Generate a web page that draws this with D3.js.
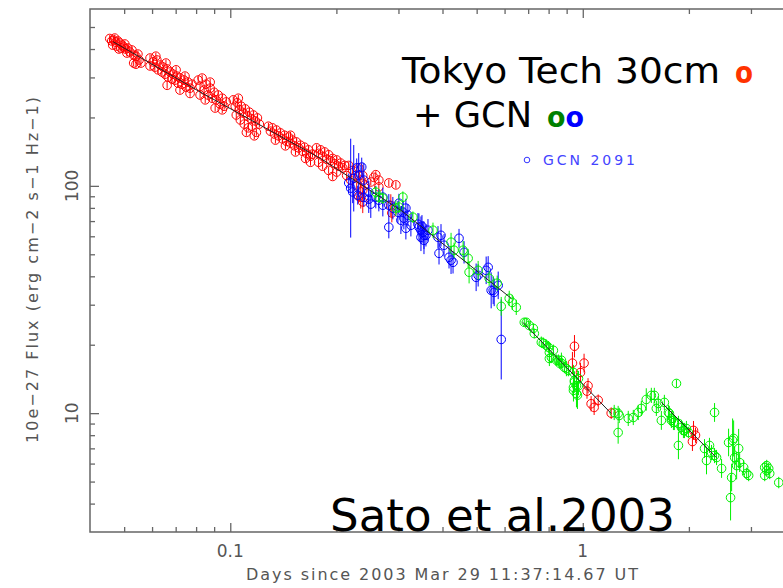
<!DOCTYPE html>
<html>
<head>
<meta charset="utf-8">
<script src="https://cdn.jsdelivr.net/npm/d3@7"></script>
<style>
body { margin: 0; background: #fff; }
svg { display: block; }
.lab { font-family: "DejaVu Sans", sans-serif; fill: #555; }
.big { font-family: "DejaVu Sans", sans-serif; fill: #000; }
</style>
</head>
<body>
<div id="chart"></div>
<script>
// [days, flux] or [days, flux, relative error]
var redData = [
  [0.0455,445],[0.0470,447],[0.0461,434],[0.0467,438],[0.0473,429],[0.0480,434],[0.0464,416],[0.0476,412],
  [0.0486,425],[0.0493,416],[0.0489,404],[0.0499,408],[0.0505,400],[0.0512,404],[0.0509,384],[0.0519,388],
  [0.0526,396],[0.0532,376],[0.0540,372],[0.0547,380],[0.0551,358],[0.0532,347],[0.0540,343],[0.0558,347],
  [0.0502,421],[0.0483,400],
  [0.0592,365],[0.0592,337],[0.0604,351],[0.0611,333],[0.0619,358],[0.0624,324],[0.0632,340],[0.0640,317],
  [0.0645,333],[0.0653,310],[0.0662,327],[0.0666,301],[0.0675,317],[0.0684,295],[0.0688,310],[0.0697,292],
  [0.0706,304],[0.0711,283],[0.0720,298],[0.0729,280],[0.0739,292],[0.0749,272],[0.0759,286],[0.0769,269],
  [0.0779,280],[0.0662,277],[0.0720,264],[0.0769,255],[0.0615,372],[0.0657,347],[0.0702,324],[0.0744,304],
  [0.0811,292],[0.0821,274],[0.0832,298],[0.0843,264],[0.0854,280],[0.0865,251],[0.0877,269],[0.0889,243],
  [0.0900,258],[0.0912,239],[0.0924,251],[0.0936,229],[0.0949,243],[0.0961,224],[0.0974,234],[0.0849,239],
  [0.0906,220],[0.0949,216],[0.0821,251],[0.0877,286],
  [0.1020,239],[0.1033,224],[0.1047,232],[0.1061,216],[0.1075,224],[0.1089,209],[0.1103,218],[0.1118,203],
  [0.1133,211],[0.1148,197],[0.1163,205],[0.1178,193],[0.1194,199],[0.1209,187],[0.1040,205],[0.1068,195],
  [0.1096,187],[0.1125,180],[0.1155,183],[0.1186,172],[0.1170,166],[0.1111,172],[0.1054,243],
  [0.1283,183],[0.1300,174],[0.1317,180],[0.1335,169],[0.1352,176],[0.1370,166],[0.1388,171],[0.1406,161],
  [0.1425,167],[0.1444,157],[0.1463,164],[0.1482,154],[0.1502,159],[0.1521,150],[0.1541,156],[0.1562,147],
  [0.1582,151],[0.1603,142],[0.1624,148],[0.1646,139],[0.1667,144],[0.1689,135],[0.1711,138],[0.1434,150],
  [0.1531,141],[0.1635,132],[0.1689,127],[0.1343,159],[0.1482,167],
  [0.1757,147],[0.1780,139],[0.1804,144],[0.1828,135],[0.1852,141],[0.1877,131],[0.1901,137],[0.1926,129],
  [0.1952,132],[0.1977,125],[0.2004,130],[0.2030,122],[0.2057,126],[0.2084,120],[0.2111,123],[0.1828,122],
  [0.1901,117],[0.1952,110],[0.1780,127],[0.2004,115],
  [0.2168,123],[0.2225,117],[0.2269,111],[0.2314,120],[0.2345,106],[0.2376,111],[0.2196,106],[0.2284,100],
  [0.2376,96],[0.2407,101],[0.2314,90],[0.2139,111],[0.2345,89,0.12],[0.2376,85,0.12],
  [0.2587,112],[0.2554,109],[0.2639,106],[0.2504,104],[0.2817,103],[0.2950,101],[0.2639,99],
  [0.2854,82,0.12],[0.2873,76,0.1],
  [0.9472,19.7,0.12],[0.9348,16.6,0.12],[1.0085,16.6,0.1],[0.9851,15.1,0.1],[1.035,13.2,0.08],[1.028,12.5,0.08],
  [1.056,11.0,0.08],[1.077,10.6,0.08],[1.106,11.4,0.06],[1.204,10.0,0.06],[2.061,8.4,0.1],[2.047,7.5,0.1],
  [2.088,8.0,0.08]
];

var blueData = [
  [0.2196,97.7,0.65],[0.2240,108,0.4],[0.2314,111.5,0.25],[0.2392,106,0.19],[0.2471,87.4,0.15],[0.2168,103,0.1],
  [0.2284,120,0.1],[0.2360,121,0.1],[0.2299,91,0.1],[0.2392,89,0.1],[0.2225,94,0.12],
  [0.2471,93.8,0.12],[0.2504,83.1,0.15],[0.2587,89.2,0.12],[0.2639,86.5,0.12],[0.2709,89.2,0.1],[0.2709,82.2,0.12],
  [0.2817,82.2,0.12],[0.2892,79.8,0.12],[0.2989,76.6,0.12],[0.3009,83.9,0.1],[0.3088,76.6,0.12],[0.3108,72.1,0.12],
  [0.3149,65.1,0.12],[0.3190,74.3,0.12],[0.3254,67.1,0.12],[0.3048,70.6,0.15],[0.3149,79.8,0.1],[0.2817,65.8,0.12],
  [0.3430,65.8,0.15],[0.3475,63.8,0.15],[0.3521,62.5,0.12],[0.3544,60.6,0.15],[0.3590,60.6,0.12],[0.3475,59.4,0.15],
  [0.3638,63.8,0.12],[0.3544,57.6,0.15],[0.3407,67.8,0.12],[0.3498,66.4,0.12],
  [0.3884,59.4,0.12],[0.3961,60.6,0.12],[0.3910,50.5,0.12],[0.4040,54.8,0.12],[0.4174,48.5,0.12],[0.4230,47.1,0.15],
  [0.4285,46.1,0.12],[0.4456,58.8,0.1],[0.4605,51.0,0.12],[0.4983,39.6,0.15],[0.5049,40.4,0.12],[0.5320,42.5,0.15],
  [0.5390,43.8,0.12],[0.5497,34.7,0.2],[0.5569,34.7,0.15],[0.5606,34.0,0.15],[0.5755,36.5,0.15],[0.5870,21.1,0.5]
];

var greenData = [
  [0.2587,93.8,0.06],[0.2639,89.2,0.06],[0.2709,88.3,0.06],[0.2950,79.8,0.08],[0.3009,80.6,0.06],[0.3088,89.2,0.06],
  [0.3297,72.8,0.06],[0.3759,63.8,0.08],[0.4230,56.5,0.1],[0.4314,52.1,0.08],[0.4576,52.1,0.1],[0.4729,48.0,0.1],
  [0.4759,41.7,0.12],[0.5049,42.5,0.1],[0.5425,39.2,0.08],[0.5717,37.3,0.08],[0.5870,29.5,0.1],[0.6185,32.0,0.08],
  [0.6308,30.7,0.08],[0.6476,29.2,0.08],
  [0.6825,25.1,0.04],[0.6915,25.1,0.04],[0.7052,24.3,0.04],[0.7240,23.6,0.05],[0.7287,22.4,0.05],[0.7629,20.5,0.06],
  [0.7730,20.3,0.06],[0.7883,19.9,0.06],[0.7987,19.5,0.06],[0.8040,18.5,0.1],[0.8146,17.6,0.06],[0.8040,17.4,0.08],
  [0.8254,18.9,0.06],[0.8417,17.1,0.06],[0.8528,17.1,0.06],[0.8584,16.6,0.06],[0.8698,17.1,0.08],[0.8698,16.6,0.06],
  [0.8870,15.9,0.06],[0.8987,15.7,0.08],[0.9106,15.4,0.06],[0.9410,15.1,0.08],[0.9471,13.9,0.1],[0.9471,13.7,0.1],
  [0.9596,13.2,0.12],[0.9723,14.2,0.08],[0.9723,13.2,0.1],[0.9410,13.0,0.1],[0.9410,12.6,0.12],[0.9596,12.2,0.15],
  [0.9659,12.0,0.15],
  [1.228,10.07,0.08],[1.260,9.97,0.08],[1.269,9.77,0.08],[1.260,8.22,0.12],[1.346,9.48,0.08],[1.391,9.57,0.08],
  [1.437,10.07,0.08],[1.466,10.49,0.08],[1.514,11.49,0.12],[1.565,11.97,0.08],[1.596,11.97,0.08],[1.638,11.03,0.08],
  [1.617,10.49,0.08],[1.671,9.29,0.1],[1.704,11.15,0.08],[1.750,10.07,0.08],[1.761,9.97,0.08],[1.784,9.48,0.08],
  [1.808,9.10,0.08],[1.844,13.51,0.04],[1.819,9.10,0.08],[1.868,9.01,0.08],[1.905,8.65,0.08],[1.930,8.39,0.08],
  [1.943,8.39,0.08],[1.968,8.56,0.08],[1.868,7.21,0.15],[1.784,9.29,0.08],[1.994,8.22,0.06],
  [2.215,6.99,0.1],[2.244,6.19,0.15],[2.288,7.21,0.08],[2.319,6.71,0.08],[2.365,10.07,0.1],[2.365,6.51,0.08],
  [2.396,6.38,0.08],[2.476,5.71,0.1],[2.592,7.43,0.15],[2.679,7.74,0.2],[2.661,7.58,0.25],[2.697,6.38,0.12],
  [2.644,5.21,0.15],[2.626,4.25,0.26],[2.768,6.99,0.22],[2.732,5.88,0.15],[2.786,6.06,0.1],[2.860,5.77,0.08],
  [2.917,5.43,0.06],[2.955,5.32,0.06],[3.282,5.77,0.06],[3.325,5.59,0.06],[3.369,5.71,0.06],[3.391,5.43,0.06],
  [3.282,5.32,0.06],[3.597,4.95,0.06],[3.325,5.88,0.06]
];

// power-law fit pieces, [days, flux]
var fitSegments = [
  [[0.0465,431],[0.0821,259],[0.1804,132],[0.3048,78.1],[0.6267,32.0]],
  [[0.676,25.1],[1.204,9.97]],
  [[1.671,11.16],[2.393,6.38]]
];

var defaultErr = 0.035;

var xDomain = [0.04, 4];
var yDomain = [3, 600];
var xMajor = [0.1, 1];
var xMinor = [0.05,0.06,0.07,0.08,0.09,0.2,0.3,0.4,0.5,0.6,0.7,0.8,0.9,2,3];
var yMajor = [10, 100];
var yMinor = [4,5,6,7,8,9,20,30,40,50,60,70,80,90,200,300,400,500];

var svgWidth = 783, svgHeight = 588;
var pLeft = 90, pRight = 795, pTop = 9, pBottom = 532;

var svg = d3.select("#chart").append("svg").attr("width", svgWidth).attr("height", svgHeight);

var x = d3.scaleLog().domain(xDomain).range([pLeft, pRight]);
var y = d3.scaleLog().domain(yDomain).range([pBottom, pTop]);

// ticks, all pointing inward
function tickAxis(axis, pos, vals, size) {
  var g = svg.append("g").attr("transform", pos)
    .call(axis.tickValues(vals).tickSize(size).tickFormat(""));
  g.select(".domain").remove();
  g.selectAll("line").attr("stroke", "#666").attr("stroke-width", 1.3);
}
tickAxis(d3.axisBottom(x), "translate(0," + pBottom + ")", xMinor, -5);
tickAxis(d3.axisBottom(x), "translate(0," + pBottom + ")", xMajor, -9);
tickAxis(d3.axisTop(x), "translate(0," + pTop + ")", xMinor, -5);
tickAxis(d3.axisTop(x), "translate(0," + pTop + ")", xMajor, -9);
tickAxis(d3.axisLeft(y), "translate(" + pLeft + ",0)", yMinor, -5);
tickAxis(d3.axisLeft(y), "translate(" + pLeft + ",0)", yMajor, -9);

// frame
svg.append("path")
  .attr("d", "M" + pRight + "," + pTop + "H" + pLeft + "V" + pBottom + "H" + pRight)
  .attr("fill", "none").attr("stroke", "#666").attr("stroke-width", 1.5);

// tick labels
svg.selectAll(".xl").data(xMajor).enter().append("text")
  .attr("class", "lab").attr("x", d => x(d)).attr("y", 557)
  .attr("text-anchor", "middle").attr("font-size", 17).text(d => d);
svg.selectAll(".yl").data(yMajor).enter().append("text")
  .attr("class", "lab").attr("font-size", 17).attr("text-anchor", "middle")
  .attr("transform", d => "translate(78," + y(d) + ") rotate(-90)").text(d => d);

svg.append("text").attr("class", "lab").attr("x", 246).attr("y", 580).attr("font-size", 16)
  .attr("textLength", 392).attr("lengthAdjust", "spacing")
  .text("Days since 2003 Mar 29 11:37:14.67 UT");
svg.append("text").attr("class", "lab").attr("font-size", 16)
  .attr("transform", "translate(38,443) rotate(-90)")
  .attr("textLength", 346).attr("lengthAdjust", "spacing")
  .text("10e\u221227 Flux (erg cm\u22122 s\u22121 Hz\u22121)");

// data
function drawSeries(data, color) {
  var g = svg.append("g");
  g.selectAll("line").data(data).enter().append("line")
    .attr("x1", d => x(d[0])).attr("x2", d => x(d[0]))
    .attr("y1", d => y(d[1] / (1 + (d[2] || defaultErr))))
    .attr("y2", d => y(d[1] * (1 + (d[2] || defaultErr))))
    .attr("stroke", color).attr("stroke-width", 1);
  g.selectAll("circle").data(data).enter().append("circle")
    .attr("cx", d => x(d[0])).attr("cy", d => y(d[1])).attr("r", 4.3)
    .attr("fill", "none").attr("stroke", color).attr("stroke-width", 1);
}
drawSeries(redData, "#ff0000");
drawSeries(blueData, "#0000ff");
drawSeries(greenData, "#00f000");

var line = d3.line().x(d => x(d[0])).y(d => y(d[1]));
svg.selectAll(".fit").data(fitSegments).enter().append("path")
  .attr("d", line).attr("fill", "none").attr("stroke", "#222").attr("stroke-width", 1);

// annotations
svg.append("text").attr("class", "big").attr("x", 402).attr("y", 83).attr("font-size", 36)
  .attr("textLength", 318).attr("lengthAdjust", "spacingAndGlyphs").text("Tokyo Tech 30cm");
svg.append("text").attr("x", 735).attr("y", 83).attr("font-size", 30).attr("font-weight", "bold")
  .attr("font-family", "DejaVu Sans, sans-serif").attr("fill", "#ff3300")
  .attr("textLength", 18).attr("lengthAdjust", "spacingAndGlyphs").text("o");
svg.append("text").attr("class", "big").attr("x", 413).attr("y", 127).attr("font-size", 35)
  .attr("textLength", 119).attr("lengthAdjust", "spacingAndGlyphs").text("+ GCN");
var oo = svg.append("text").attr("x", 547).attr("y", 127).attr("font-size", 29).attr("font-weight", "bold")
  .attr("font-family", "DejaVu Sans, sans-serif")
  .attr("textLength", 37).attr("lengthAdjust", "spacingAndGlyphs");
oo.append("tspan").attr("fill", "#008000").text("o");
oo.append("tspan").attr("fill", "#0000ff").text("o");

svg.append("circle").attr("cx", 527).attr("cy", 160).attr("r", 2.8)
  .attr("fill", "none").attr("stroke", "#3333ff").attr("stroke-width", 1);
svg.append("text").attr("x", 543).attr("y", 165).attr("font-size", 14)
  .attr("font-family", "DejaVu Sans, sans-serif").attr("fill", "#4444ff")
  .attr("textLength", 92).attr("lengthAdjust", "spacing").text("GCN 2091");

svg.append("text").attr("class", "big").attr("x", 330).attr("y", 531).attr("font-size", 45)
  .attr("textLength", 345).attr("lengthAdjust", "spacingAndGlyphs").text("Sato et al.2003");
</script>
</body>
</html>
